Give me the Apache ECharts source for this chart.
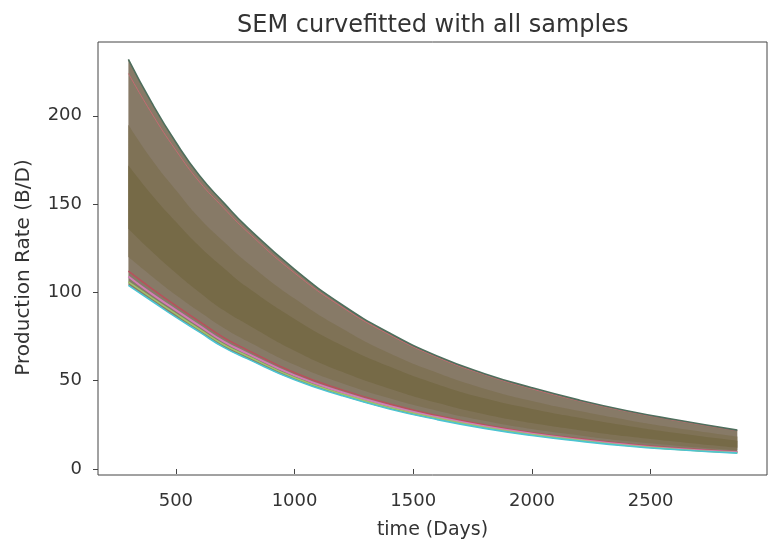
<!DOCTYPE html>
<html>
<head>
<meta charset="utf-8">
<script src="https://cdn.jsdelivr.net/npm/echarts@6/dist/echarts.min.js"></script>
<style>
  html, body { margin: 0; padding: 0; background: #fff; }
  #chart { width: 769px; height: 550px; }
</style>
</head>
<body>
<div id="chart"></div>
<script>
// values
const days = [300, 400, 500, 600, 700, 800, 1000, 1200, 1400, 1600, 1800, 2000, 2200, 2400, 2600, 2865]

// outer edges of the bundle of fitted curves
const upperEdge = [232, 207, 185, 166, 151, 137, 113, 93, 77, 64, 54, 46, 39, 33, 28, 22]
const lowerEdge = [104, 95, 86, 77.5, 69, 62.5, 50.5, 41.5, 34, 28, 23, 19, 15.8, 13, 11, 9]

// shading inside the bundle (darker towards the middle, where most curves overlap)
const midUpper = [195, 175, 158, 142, 129, 117, 96.5, 79.5, 65.5, 54.5, 45.5, 38.5, 32.8, 27.8, 23.4, 18.4]
const coreUpper = [172, 155, 140, 126, 114, 103, 85, 70, 58, 48, 40, 34, 29, 24.5, 20.5, 16]
const coreLower = [136, 123, 111, 100, 90, 82, 67, 55, 45.5, 37.5, 31, 26, 22, 18.5, 15.5, 12]
const midLower = [120, 109, 98.5, 89, 80, 72.5, 59, 48.5, 40, 33, 27.3, 22.6, 19, 15.8, 13.3, 10.6]

// single curves that stand out at the edges
const upperRed = [224, 201, 180.5, 162.5, 148, 134.5, 111, 91.7, 76, 63.3, 53.4, 45.4, 38.5, 32.6, 27.6, 21.7]
const lowerRed = [112, 102, 92.5, 83.5, 74.5, 67.5, 54.5, 44.8, 36.8, 30.3, 25, 20.6, 17.1, 14.1, 11.9, 9.8]
const lowerPink = [109, 99, 90, 81, 72.3, 65.5, 53, 43.5, 35.7, 29.4, 24.2, 20, 16.6, 13.7, 11.5, 9.5]
const lowerGreen = [106, 96.8, 87.8, 79, 70.5, 64, 51.7, 42.4, 34.8, 28.7, 23.6, 19.5, 16.2, 13.3, 11.2, 9.2]

const xTicks = [500, 1000, 1500, 2000, 2500]
const yTicks = [0, 50, 100, 150, 200]

const font = 'DejaVu Sans'

function pairs(vals) {
  return days.map((d, i) => [d, vals[i]])
}
// [value, day] so the value dimension comes first and gets stacked (by index)
function stackRows(vals) {
  return days.map((d, i) => [vals[i], d])
}
function baseSeries(stack, bottom) {
  return {
    type: 'line', stack: stack, encode: { x: 1, y: 0 }, data: stackRows(bottom),
    symbol: 'none', smooth: true, lineStyle: { width: 0, opacity: 0 }, silent: true
  }
}
function band(stack, top, bottom, color) {
  return {
    type: 'line', stack: stack, encode: { x: 1, y: 0 },
    data: stackRows(top.map((v, i) => v - bottom[i])),
    symbol: 'none', smooth: true, lineStyle: { width: 0, opacity: 0 },
    areaStyle: { color: color, opacity: 1 }, silent: true
  }
}
function edgeLine(vals, color, width) {
  return {
    type: 'line', data: pairs(vals), symbol: 'none', smooth: true,
    lineStyle: { color: color, width: width }, silent: true
  }
}

const chart = echarts.init(document.getElementById('chart'))
chart.setOption({
  animation: false,
  textStyle: { fontFamily: font },
  title: {
    text: 'SEM curvefitted with all samples',
    left: 232,
    top: 9,
    textStyle: { fontFamily: font, fontSize: 24, fontWeight: 'normal', color: '#333' }
  },
  grid: {
    left: 98, right: 2, top: 42, bottom: 75,
    show: true, borderColor: '#444', borderWidth: 1, backgroundColor: 'transparent'
  },
  xAxis: {
    type: 'value',
    min: 172,
    max: 2990,
    name: 'time (Days)',
    nameLocation: 'middle',
    nameGap: 46,
    nameTextStyle: { fontFamily: font, fontSize: 19, color: '#333' },
    axisLine: { show: false },
    splitLine: { show: false },
    axisTick: { show: true, customValues: xTicks, length: 5, lineStyle: { color: '#444' } },
    axisLabel: {
      customValues: xTicks, margin: 17, fontFamily: font, fontSize: 18, color: '#333',
      formatter: v => String(v)
    }
  },
  yAxis: {
    type: 'value',
    min: -3.4,
    max: 241.8,
    name: 'Production Rate (B/D)',
    nameLocation: 'middle',
    nameGap: 64,
    nameTextStyle: { fontFamily: font, fontSize: 20, color: '#333', padding: [0, 18, 0, 0] },
    axisLine: { show: false },
    splitLine: { show: false },
    axisTick: { show: true, customValues: yTicks, length: 5, lineStyle: { color: '#444' } },
    axisLabel: {
      customValues: yTicks, margin: 16, fontFamily: font, fontSize: 18, color: '#333',
      formatter: v => String(v)
    }
  },
  series: [
    baseSeries('outer', lowerEdge),
    band('outer', upperEdge, lowerEdge, '#877a67'),
    baseSeries('mid', midLower),
    band('mid', midUpper, midLower, '#7f7256'),
    baseSeries('core', coreLower),
    band('core', coreUpper, coreLower, '#766a47'),
    edgeLine(upperRed, '#c46a72', 1),
    edgeLine(upperEdge, '#4e6e5c', 1.6),
    edgeLine(lowerRed, '#b8505c', 1.5),
    edgeLine(lowerPink, '#d27cb6', 2),
    edgeLine(lowerGreen, '#9ec46a', 1.6),
    edgeLine(lowerEdge, '#4cc4d2', 1.6)
  ]
})
</script>
</body>
</html>
